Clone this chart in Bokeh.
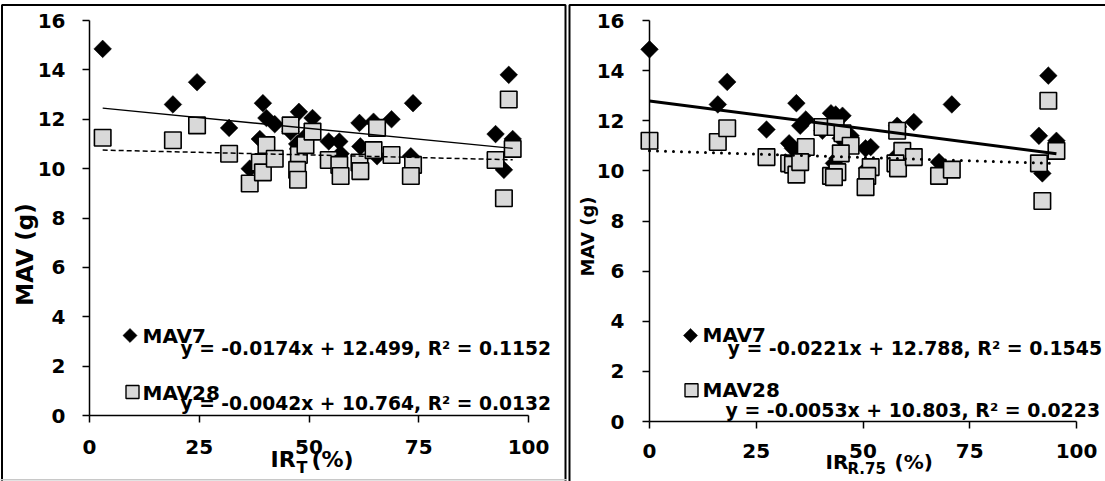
import numpy as np
from bokeh.plotting import figure
from bokeh.layouts import row
from bokeh.models import Range1d, FixedTicker, Label, BoxAnnotation
from bokeh.embed import file_html
from bokeh.resources import INLINE

# ---- data: MAV7 / MAV28 against the two irregularity indices ----
ir_t = [3.0, 19.0, 24.5, 31.8, 36.5, 38.8, 39.5, 40.3, 42.2, 45.8, 47.7, 47.3, 47.5, 49.2, 50.8,
        54.5, 56.9, 57.2, 61.5, 61.7, 64.7, 65.5, 68.8, 73.7, 73.2, 92.5, 95.5, 96.4, 94.4]
mav7_t = [14.85, 12.6, 13.5, 11.65, 10.0, 11.2, 12.65, 12.05, 11.8, 11.5, 12.3, 11.0, 10.8, 11.3, 12.05,
          11.1, 11.1, 10.6, 11.85, 10.9, 11.9, 10.5, 12.0, 12.65, 10.5, 11.4, 13.8, 11.2, 9.95]
mav28_t = [11.25, 11.15, 11.75, 10.6, 9.4, 10.25, 9.85, 10.95, 10.4, 11.75, 10.55, 9.95, 9.55, 10.95, 11.5,
           10.35, 10.15, 9.7, 10.25, 9.9, 10.75, 11.65, 10.55, 10.15, 9.7, 10.35, 12.8, 10.8, 8.8]

ir_r75 = [0.0, 16.0, 18.2, 27.4, 32.7, 33.6, 34.4, 36.6, 35.3, 40.5, 42.5, 43.6, 45.2, 47.1, 44.8, 44.0,
          43.2, 51.8, 51.0, 50.6, 58.0, 59.2, 57.6, 58.2, 61.9, 67.8, 70.8, 91.2, 93.4, 95.3, 92.0]
mav7_r = [14.85, 12.65, 13.55, 11.65, 11.1, 10.9, 12.7, 12.05, 11.8, 11.6, 12.3, 12.25, 12.2, 11.4, 11.3, 10.5,
          10.3, 10.95, 10.1, 10.9, 11.8, 10.6, 10.55, 11.75, 11.95, 10.35, 12.65, 11.4, 13.8, 11.2, 9.9]
mav28_r = [11.2, 11.15, 11.7, 10.55, 10.3, 10.25, 9.85, 10.95, 10.35, 11.75, 9.8, 11.75, 11.5, 11.0, 10.7, 9.95,
           9.75, 10.15, 9.8, 9.35, 11.6, 10.8, 10.3, 10.1, 10.55, 9.8, 10.05, 10.3, 12.8, 10.8, 8.8]

# linear trend (slope, intercept, R^2)
fit7_t = (-0.0174, 12.499, 0.1152)
fit28_t = (-0.0042, 10.764, 0.0132)
fit7_r = (-0.0221, 12.788, 0.1545)
fit28_r = (-0.0053, 10.803, 0.0223)

series_names = ["MAV7", "MAV28"]
x_ticks = [0, 25, 50, 75, 100]
y_ticks = [0, 2, 4, 6, 8, 10, 12, 14, 16]
y_title = "MAV (g)"

FONT = "DejaVu Sans"
GREY = "#d9d9d9"
H = 481
BASE_SHIFT = 8     # Label "alphabetic" anchor sits this far above the drawn baseline


def eq_text(fit):
    s, b, r2 = fit
    return f"y = {s:.4f}x + {b:.3f}, R\u00b2 = {r2:.4f}"


def make_panel(x, m7, m28, f7, f28, geo):
    W = geo["width"]
    ax0, ax100 = geo["x0"], geo["x100"]   # pixel columns of x = 0 and x = 100
    ay0, ay16 = geo["y0"], geo["y16"]     # pixel rows of y = 0 and y = 16
    kx = (ax100 - ax0) / 100.0
    ky = (ay0 - ay16) / 16.0

    # the frame covers the whole panel; axes sit at fixed data locations
    p = figure(width=W, height=H,
               x_range=Range1d(-ax0 / kx, (W - ax0) / kx),
               y_range=Range1d((ay0 - H) / ky, ay0 / ky),
               output_backend="svg", toolbar_location=None, min_border=0)
    p.outline_line_color = None
    p.grid.visible = False
    p.background_fill_color = "white"
    p.border_fill_color = "white"

    def dx(cx):
        return (cx - ax0) / kx

    def dy(cy):
        return (ay0 - cy) / ky

    for ax in (p.xaxis[0], p.yaxis[0]):
        ax.fixed_location = 0
        ax.axis_line_color = "black"
        ax.axis_line_width = 1.5
        ax.major_tick_line_color = "black"
        ax.major_tick_line_width = 1.5
        ax.major_tick_in = 0
        ax.major_tick_out = 7
        ax.minor_tick_line_color = None
        ax.major_label_text_font = FONT
        ax.major_label_text_font_style = "bold"
        ax.major_label_text_font_size = geo["tick_size"]
        ax.major_label_text_color = "black"
    p.xaxis.bounds = (0, 100)
    p.yaxis.bounds = (0, 16)
    p.xaxis.ticker = FixedTicker(ticks=x_ticks)
    p.yaxis.ticker = FixedTicker(ticks=y_ticks)
    p.xaxis.major_label_standoff = geo["xstand"]
    p.yaxis.major_label_standoff = geo["ystand"]

    # points: MAV7 as black diamonds, MAV28 as grey squares on top
    p.scatter(x, m7, marker="square", angle=np.pi / 4, size=12.5,
              fill_color="black", line_color="black", line_width=0.5)
    p.scatter(x, m28, marker="square", size=16.5,
              fill_color=GREY, line_color="black", line_width=1.6)

    # trend lines over the fitted x extent
    xs = np.array([min(x), max(x)])
    p.line(xs, f7[0] * xs + f7[1], line_color="black", line_width=geo["lw7"])
    p.line(xs, f28[0] * xs + f28[1], line_color="black", line_width=geo["lw28"],
           line_dash=geo["dash28"], line_cap=geo["cap28"])

    # legend keys
    kd, ks = geo["key7"], geo["key28"]
    p.scatter([dx(kd[0])], [dy(kd[1])], marker="square", angle=np.pi / 4, size=10,
              fill_color="black", line_color="black", line_width=0.5)
    p.scatter([dx(ks[0])], [dy(ks[1])], marker="square", size=13,
              fill_color=GREY, line_color="black", line_width=1.4)

    def text(t, cx, cy, size, align="left", baseline="alphabetic", angle=0.0):
        shift = BASE_SHIFT if baseline == "alphabetic" else 0
        p.add_layout(Label(x=cx, y=H - cy + shift, x_units="screen", y_units="screen", text=t,
                           text_font=FONT, text_font_style="bold", text_font_size=size,
                           text_color="black", text_align=align, text_baseline=baseline,
                           angle=angle))

    text(series_names[0], *geo["lab7"], geo["leg_size"])
    text(series_names[1], *geo["lab28"], geo["leg_size"])
    text(eq_text(f7), *geo["eq7"], geo["eq_size"])
    text(eq_text(f28), *geo["eq28"], geo["eq_size"])

    # axis titles
    text(y_title, *geo["ytitle"], geo["ytitle_size"], align="center", baseline="middle",
         angle=np.pi / 2)
    xt = geo["xtitle"]
    text("IR", xt[0], xt[1], geo["xtitle_size"])
    text(geo["sub"], xt[2], xt[1] + geo["sub_drop"], geo["sub_size"])
    text("(%)", xt[3], xt[1], geo["xtitle_size"])

    # panel frame lines
    for b in geo["boxes"]:
        p.add_layout(BoxAnnotation(left=b[0], right=b[1], top=b[2], bottom=b[3],
                                   left_units="canvas", right_units="canvas",
                                   top_units="canvas", bottom_units="canvas",
                                   fill_color=None, fill_alpha=0, line_color=b[4],
                                   line_alpha=1.0, line_width=b[5]))
    return p


geo_t = dict(width=567, x0=89, x100=528, y0=415, y16=20, tick_size="20px",
             xstand=17, ystand=17, lw7=1.3, lw28=1.5, dash28="5 3", cap28="butt",
             key7=(129.5, 335), key28=(132, 391.5), lab7=(142, 343), lab28=(142, 400),
             eq7=(180, 355.5), eq28=(180, 411), leg_size="20px", eq_size="18.7px",
             ytitle=(24, 254), ytitle_size="23px",
             xtitle=(270, 467, 296, 311), sub="T", sub_drop=8,
             xtitle_size="22px", sub_size="16px",
             boxes=[(1.5, 565, 4.5, 495, "black", 2), (-5, 570, 479.2, 495, "#c8c8c8", 1.5)])

# right panel: pixel positions in its own canvas (it starts at column 567)
geo_r = dict(width=538, x0=82, x100=509, y0=421, y16=20, tick_size="20px",
             xstand=15, ystand=18, lw7=3, lw28=3, dash28="0 8", cap28="round",
             key7=(123, 335), key28=(124, 389.7), lab7=(135, 342), lab28=(135, 397),
             eq7=(160, 355.5), eq28=(158, 417), leg_size="20px", eq_size="18.9px",
             ytitle=(20, 236), ytitle_size="18px",
             xtitle=(258, 469, 280, 327), sub="R.75", sub_drop=7,
             xtitle_size="20px", sub_size="15px",
             boxes=[(2, 700, 4.5, 495, "black", 2)])

p1 = make_panel(ir_t, mav7_t, mav28_t, fit7_t, fit28_t, geo_t)
p2 = make_panel(ir_r75, mav7_r, mav28_r, fit7_r, fit28_r, geo_r)

layout = row(p1, p2, spacing=0)
open("out.html", "w").write(file_html(layout, INLINE))
